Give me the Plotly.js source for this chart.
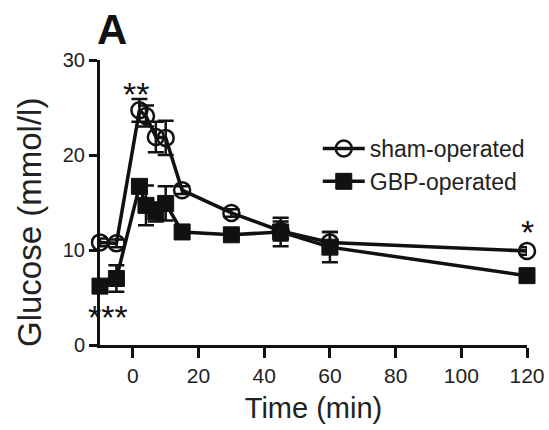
<!DOCTYPE html>
<html>
<head>
<meta charset="utf-8">
<script src="https://cdn.plot.ly/plotly-3.0.1.min.js"></script>
<style>html,body{margin:0;padding:0;background:#fff;}#chart{width:549px;height:430px;}</style>
</head>
<body>
<div id="chart"></div>
<script>
const timeMin = [-10, -5, 2, 4, 7, 10, 15, 30, 45, 60, 120];
const shamGlucose = [10.8, 10.7, 24.7, 24.1, 21.9, 21.8, 16.3, 13.9, 12.0, 10.8, 9.9];
const shamSE = [0.4, 0.4, 1.2, 1.1, 1.6, 1.8, 0.4, 0.4, 1.0, 1.1, 0.4];
const gbpGlucose = [6.2, 7.0, 16.7, 14.7, 14.0, 14.9, 11.9, 11.6, 11.9, 10.3, 7.3];
const gbpSE = [0.5, 1.4, 0.6, 2.1, 1.0, 1.8, 0.4, 0.4, 1.5, 1.6, 0.6];
const seriesNames = ["sham-operated", "GBP-operated"];
const xTicks = [0, 20, 40, 60, 80, 100, 120];
const yTicks = [0, 10, 20, 30];
const stars = [
  {x: 1, y: 26.4, text: "**"},
  {x: -7.5, y: 2.9, text: "***"},
  {x: 120, y: 11.9, text: "*"}
];

const ink = "#111";
const traces = [
  {
    x: timeMin, y: gbpGlucose, name: seriesNames[1], legendrank: 2, type: "scatter", mode: "lines+markers",
    cliponaxis: false,
    line: {color: ink, width: 3.5},
    marker: {symbol: "square", size: 16, color: ink, line: {color: ink, width: 1}},
    error_y: {type: "data", array: gbpSE, visible: true, color: ink, thickness: 2.5, width: 8}
  },
  {
    x: timeMin, y: shamGlucose, name: seriesNames[0], legendrank: 1, type: "scatter", mode: "lines+markers",
    cliponaxis: false,
    line: {color: ink, width: 3.5},
    marker: {symbol: "circle-open", size: 16, color: ink, line: {color: ink, width: 2.5}},
    error_y: {type: "data", array: shamSE, visible: true, color: ink, thickness: 2.5, width: 8}
  }
];

const annotations = stars.map(s => ({
  x: s.x, y: s.y, xref: "x", yref: "y", text: s.text, showarrow: false,
  font: {family: "Liberation Sans, Arial, sans-serif", size: 34, color: ink},
  xanchor: "center", yanchor: "middle"
}));
annotations.push({
  x: (112 - 100) / 427, y: (345 - 29) / 285, xref: "paper", yref: "paper",
  text: "<b>A</b>", showarrow: false, xanchor: "center", yanchor: "middle",
  font: {family: "Liberation Sans, Arial, sans-serif", size: 42, color: ink}
});
// y-axis title, placed as rotated text so it can sit where the reference has it
annotations.push({
  x: (29 - 100) / 427, y: (345 - 223) / 285, xref: "paper", yref: "paper",
  text: "Glucose (mmol/l)", textangle: -90, showarrow: false,
  xanchor: "center", yanchor: "middle",
  font: {family: "Liberation Sans, Arial, sans-serif", size: 33, color: "#222"}
});

const layout = {
  width: 549, height: 430,
  margin: {l: 100, r: 22, t: 60, b: 85},
  paper_bgcolor: "#fff", plot_bgcolor: "#fff",
  font: {family: "Liberation Sans, Arial, sans-serif", color: "#222"},
  showlegend: true,
  legend: {
    x: 0.51, y: 0.765, xanchor: "left", yanchor: "top",
    traceorder: "normal",
    font: {size: 23, color: "#222"},
    bgcolor: "rgba(0,0,0,0)", itemwidth: 42
  },
  xaxis: {
    range: [-10, 120], tickvals: xTicks, ticktext: xTicks.map(String),
    showline: true, linewidth: 3, linecolor: ink, mirror: false,
    ticks: "outside", ticklen: 10, tickwidth: 3, tickcolor: ink,
    showgrid: false, zeroline: false,
    tickfont: {size: 21, color: "#222"},
    title: {text: "Time (min)", font: {size: 29, color: "#222"}, standoff: 12}
  },
  yaxis: {
    range: [0, 30], tickvals: yTicks, ticktext: yTicks.map(String),
    showline: true, linewidth: 3, linecolor: ink,
    ticks: "outside", ticklen: 8, tickwidth: 3, tickcolor: ink,
    showgrid: false, zeroline: false,
    tickfont: {size: 20, color: "#222"},
    title: {text: ""}
  },
  annotations: annotations
};

Plotly.newPlot("chart", traces, layout, {displayModeBar: false, staticPlot: true});
</script>
</body>
</html>
